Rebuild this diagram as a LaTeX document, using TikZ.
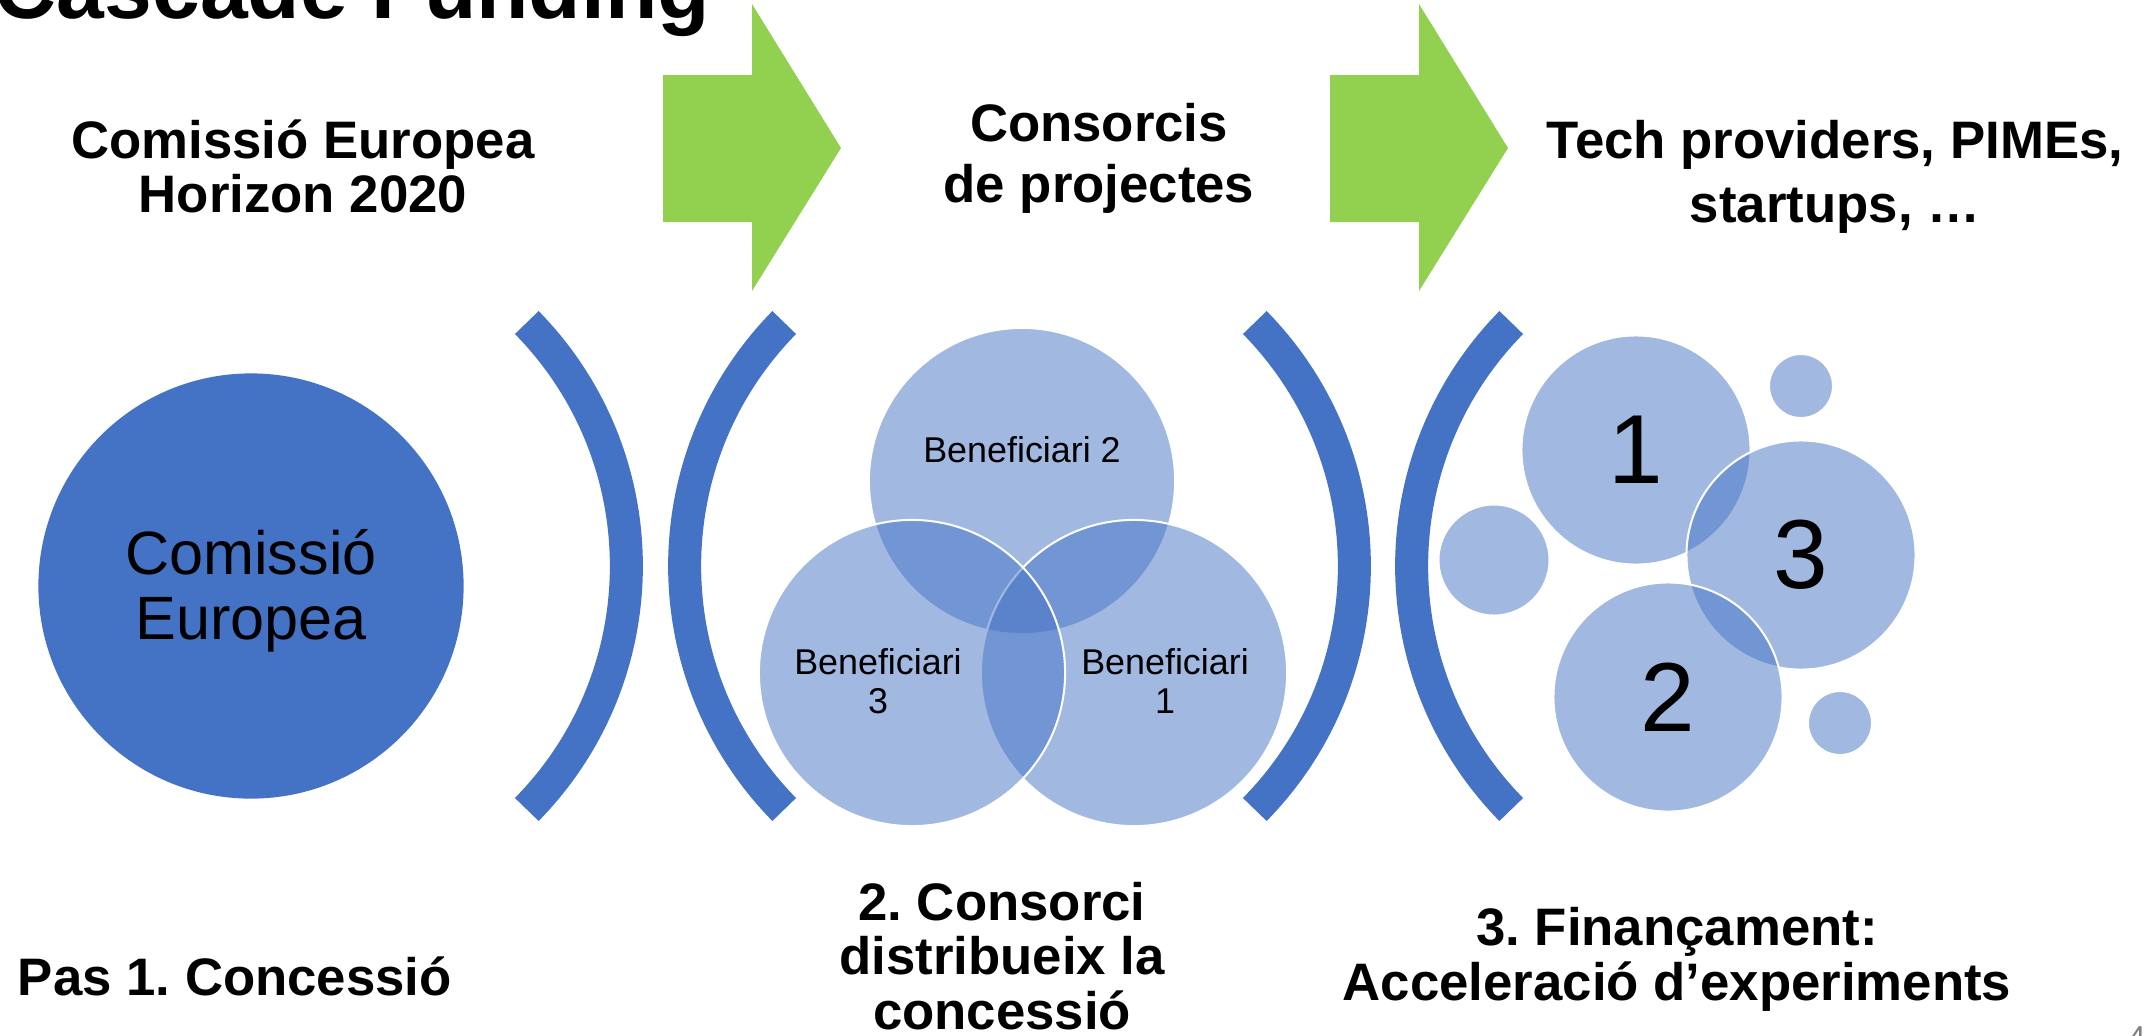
\documentclass[tikz,border=0pt]{standalone}
\usepackage{fontspec}
\setmainfont{Liberation Sans}
\usepackage{tikz}

\definecolor{blauFosc}{HTML}{4472C4}
\definecolor{verdFletxa}{HTML}{92D050}
\newcommand{\lletra}[2]{\fontsize{#1}{#2}\selectfont\lineskiplimit=-\maxdimen\frenchspacing}

\begin{document}
\begin{tikzpicture}[x=0.01cm, y=-0.01cm,
	every node/.style = {inner sep=0pt, outer sep=0pt, align=center, text=black},
	etiqueta/.style = {font=\lletra{15}{15.4}\bfseries},
	bombolla/.style = {circle, fill=blauFosc, fill opacity=0.5, text opacity=1,
		draw=white, draw opacity=1, line width=0.02cm},
	venn/.style = {circle, minimum size=3.06cm, fill=blauFosc, fill opacity=0.5,
		draw=white, draw opacity=1, line width=0.02cm},
	claudator/.style = {draw=blauFosc, line width=0.33cm}]
	
	\useasboundingbox (0,0) rectangle (2151,1035);
	
	% title, cut at the top edge
	\node[anchor=base west, font=\lletra{24.4}{26}\bfseries] (titol) at (-5,18) {Cascade Funding};
	
	% top layer: who gives the money
	\node[etiqueta] (comissioTxt) at (303,166) {Comissió Europea\\Horizon 2020};
	\node[etiqueta, font=\lletra{15}{17.3}\bfseries] (consorcisTxt) at (1099,158) {Consorcis\\de projectes};
	\node[etiqueta, font=\lletra{15}{18.3}\bfseries] (techTxt) at (1835,177) {Tech providers, PIMEs,\\startups, \dots};
	
	% green arrows
	\foreach \dx in {0,667}
		\fill[verdFletxa] (663+\dx,75) -- (752+\dx,75) -- (752+\dx,4) -- (841+\dx,148)
			-- (752+\dx,291) -- (752+\dx,222) -- (663+\dx,222) -- cycle;
	
	% brackets
	\draw[claudator] (279,566) ++(-44.5:347.4) arc[start angle=-44.5, end angle=44.5, radius=347.4];
	\draw[claudator] (1032,566) ++(135.5:347.4) arc[start angle=135.5, end angle=224.5, radius=347.4];
	\draw[claudator] (1007,566) ++(-44.5:347.4) arc[start angle=-44.5, end angle=44.5, radius=347.4];
	\draw[claudator] (1759,566) ++(135.5:347.4) arc[start angle=135.5, end angle=224.5, radius=347.4];
	
	% step 1: the commission
	\node[circle, fill=blauFosc, minimum size=4.25cm] (comissio) at (251,586) {};
	\node[font=\lletra{17.4}{18.5}] (comissioCercleTxt) at (251,591) {Comissió\\Europea};
	
	% step 2: venn of the consortium
	\node[venn] (ben2) at (1022,481) {};
	\node[venn] (ben1) at (1134,673) {};
	\node[venn] (ben3) at (912,673) {};
	\node[anchor=base, font=\lletra{10.2}{11.1}] (ben2Txt) at (1022,462) {Beneficiari 2};
	\node[font=\lletra{10.2}{11.1}] (ben3Txt) at (878,681) {Beneficiari\\3};
	\node[font=\lletra{10.2}{11.1}] (ben1Txt) at (1165,681) {Beneficiari\\1};
	
	% step 3: bubbles
	\node[bombolla, minimum size=1.11cm] (petitA) at (1494,560) {};
	\node[bombolla, minimum size=0.64cm] (petitB) at (1801,386) {};
	\node[bombolla, minimum size=0.64cm] (petitC) at (1840,723) {};
	\node[bombolla, minimum size=2.29cm, font=\lletra{27.9}{30}] (bomb1) at (1636,450) {1};
	\node[bombolla, minimum size=2.29cm, font=\lletra{27.9}{30}] (bomb3) at (1801,555) {3};
	\node[bombolla, minimum size=2.29cm, font=\lletra{27.9}{30}] (bomb2) at (1668,697) {2};
	
	% bottom layer: steps
	\node[anchor=base west, etiqueta] (pas1) at (18,995) {Pas 1. Concessió};
	\node[etiqueta] (pas2) at (1002,956) {2. Consorci\\distribueix la\\concessió};
	\node[etiqueta, font=\lletra{15}{15.6}\bfseries] (pas3) at (1677,959) {3. Finançament:\\Acceleració d’experiments};
	
	% slide number
	\node[anchor=base west, text=gray, font=\lletra{9}{10}] (numDiapo) at (2128,1048) {4};
\end{tikzpicture}
\end{document}
